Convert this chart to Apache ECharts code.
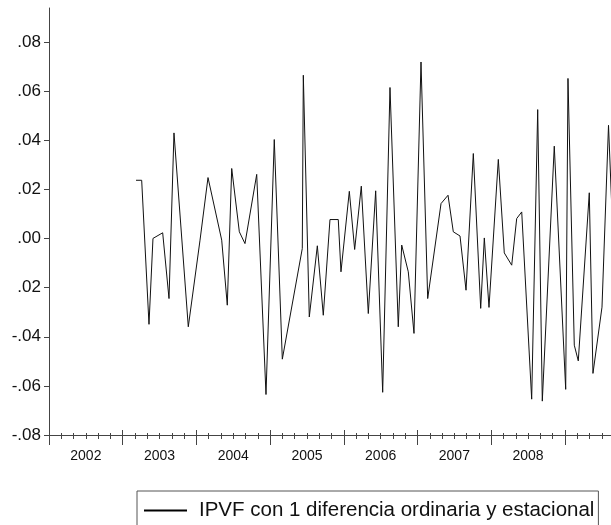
<!DOCTYPE html>
<html>
<head>
<meta charset="utf-8">
<script src="https://cdn.jsdelivr.net/npm/echarts@6/dist/echarts.min.js"></script>
<style>
html,body{margin:0;padding:0;background:#fff;}
#c{width:611px;height:525px;}
</style>
</head>
<body>
<div id="c"></div>
<script>
// x: months since January 2002, y: value of the differenced series
const obsMonth = [14.17, 15.09, 16.28, 16.93, 18.51, 19.54, 20.35, 22.68, 24.59, 25.89,
  28.12, 29.03, 29.75, 30.99, 31.91, 33.82, 35.33, 36.68, 37.99, 41.24,
  41.41, 42.38, 43.69, 44.66, 45.75, 47.10, 47.54, 48.90, 49.77, 50.85,
  51.99, 53.19, 54.33, 55.52, 56.87, 57.43, 58.50, 59.43, 60.57, 61.66,
  63.83, 64.97, 65.83, 66.92, 67.90, 69.09, 70.29, 70.88, 71.64, 73.16,
  74.13, 75.34, 76.15, 76.97, 78.59, 79.57, 80.32, 82.27, 84.13, 84.50,
  85.53, 86.18, 87.97, 88.57, 90.04, 91.10, 92.00];
const obsValue = [0.0238, 0.0238, -0.0349, 0.0001, 0.0024, -0.0244, 0.0431, -0.0359, -0.0006, 0.0249,
  -0.0006, -0.0271, 0.0286, 0.0028, -0.0020, 0.0262, -0.0635, 0.0404, -0.0491, -0.0040,
  0.0666, -0.0319, -0.0029, -0.0312, 0.0078, 0.0078, -0.0135, 0.0193, -0.0044, 0.0214,
  -0.0305, 0.0195, -0.0626, 0.0616, -0.0359, -0.0026, -0.0135, -0.0386, 0.0720, -0.0244,
  0.0143, 0.0177, 0.0028, 0.0011, -0.0210, 0.0347, -0.0284, 0.0003, -0.0280, 0.0323,
  -0.0058, -0.0108, 0.0082, 0.0109, -0.0654, 0.0526, -0.0662, 0.0377, -0.0614, 0.0653,
  -0.0434, -0.0498, 0.0187, -0.0549, -0.0279, 0.0462, -0.0100];
const yearLabels = ['2002', '2003', '2004', '2005', '2006', '2007', '2008'];
const yTickLabels = ['-.08', '-.06', '-.04', '.02', '.00', '.02', '.04', '.06', '.08'];
const seriesName = 'IPVF con 1 diferencia ordinaria y estacional';

const seriesData = obsMonth.map((m, i) => [m, obsValue[i]]);

const FONT = 'Liberation Sans, Arial, sans-serif';
const AXIS_COLOR = '#444';
const X_MAX = 96;

const chart = echarts.init(document.getElementById('c'), null, {renderer: 'canvas'});
chart.setOption({
  animation: false,
  backgroundColor: '#fff',
  grid: [
    {left: 49, width: 589.6, top: 8, bottom: 90, outerBoundsMode: 'none', containLabel: false},
    {left: 49, width: 589.6, top: 42.2, bottom: 90, outerBoundsMode: 'none', containLabel: false}
  ],
  xAxis: [
    {
      type: 'value', gridIndex: 0, min: 0, max: X_MAX, interval: 12, position: 'bottom',
      axisLine: {show: true, onZero: false, lineStyle: {color: AXIS_COLOR, width: 1}},
      axisTick: {show: true, length: 10, lineStyle: {color: AXIS_COLOR}},
      minorTick: {show: true, splitNumber: 6, length: 4, lineStyle: {color: AXIS_COLOR}},
      axisLabel: {show: false},
      splitLine: {show: false}
    },
    {
      type: 'value', gridIndex: 0, min: 0, max: X_MAX, interval: 12, position: 'bottom',
      axisLine: {show: false, onZero: false},
      axisTick: {show: true, inside: true, length: 5, lineStyle: {color: AXIS_COLOR}},
      minorTick: {show: true, splitNumber: 6, length: 2, lineStyle: {color: AXIS_COLOR}},
      axisLabel: {show: false},
      splitLine: {show: false}
    },
    {
      type: 'value', gridIndex: 0, min: 0, max: X_MAX, interval: 6, position: 'bottom',
      axisLine: {show: false, onZero: false},
      axisTick: {show: false},
      axisLabel: {
        show: true, margin: 14, fontSize: 14, fontFamily: FONT, color: '#111',
        formatter: function (v) {
          const r = Math.round(v);
          if (r % 12 !== 6) return '';
          const lab = yearLabels[(r - 6) / 12];
          return lab || '';
        }
      },
      splitLine: {show: false}
    },
    {type: 'value', gridIndex: 1, min: 0, max: 1, show: false, axisLine: {onZero: false}}
  ],
  yAxis: [
    {
      type: 'value', gridIndex: 0, min: -0.08, max: 0.094,
      axisLine: {show: true, onZero: false, lineStyle: {color: AXIS_COLOR, width: 1}},
      axisTick: {show: false},
      axisLabel: {show: false},
      splitLine: {show: false}
    },
    {
      type: 'value', gridIndex: 1, min: -0.08, max: 0.08, interval: 0.02,
      axisLine: {show: false, onZero: false},
      axisTick: {show: true, length: 5, lineStyle: {color: AXIS_COLOR}},
      axisLabel: {
        show: true, margin: 8, fontSize: 17, fontFamily: FONT, color: '#111',
        formatter: function (v) {
          const idx = Math.round(v / 0.02) + 4;
          return yTickLabels[idx] || '';
        }
      },
      splitLine: {show: false}
    }
  ],
  legend: {
    show: true,
    data: [seriesName],
    left: 137, top: 491,
    orient: 'horizontal',
    padding: [9, 4, 30, 7],
    borderColor: '#555', borderWidth: 1,
    icon: 'rect', itemWidth: 43, itemHeight: 2,
    itemStyle: {color: '#000'},
    textStyle: {fontSize: 20.5, fontFamily: FONT, color: '#111', padding: [0, 0, 0, 7]}
  },
  series: [{
    name: seriesName,
    type: 'line',
    xAxisIndex: 0, yAxisIndex: 0,
    data: seriesData,
    symbol: 'none', showSymbol: false,
    lineStyle: {color: '#111', width: 1},
    itemStyle: {color: '#000'},
    clip: true
  }]
});
</script>
</body>
</html>
